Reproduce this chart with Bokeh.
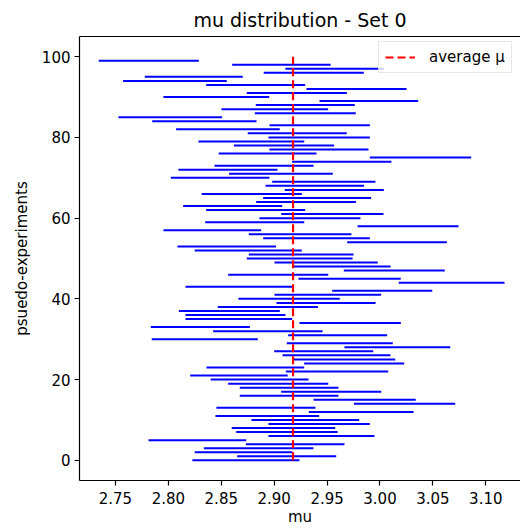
import numpy as np
from bokeh.plotting import figure
from bokeh.models import (ColumnDataSource, Range1d, FixedTicker, LinearAxis,
                          PrintfTickFormatter)
from bokeh.embed import file_html
from bokeh.resources import INLINE

# Fitted mu and its uncertainty for each pseudo-experiment (index = experiment number)
mu = [
    2.8733, 2.9118, 2.8711, 2.8853, 2.9198, 2.8274, 2.9447, 2.9120, 2.9088, 2.9425,
    2.9294, 2.8935, 2.9822, 2.8922, 3.0232, 2.9855, 2.9141, 2.9539, 2.9141, 2.9038,
    2.8862, 2.8667, 2.9594, 2.8822, 2.9756, 2.9660, 2.9589, 2.9468, 3.0164, 2.9620,
    2.8344, 2.9600, 2.8940, 2.8302, 2.9718, 2.8666, 2.8634, 2.8576, 2.8940, 2.9490,
    2.9141, 2.9507, 3.0021, 2.8669, 3.0677, 2.9713, 2.9038, 3.0135, 2.9638, 2.9491,
    2.9241, 2.9255, 2.8755, 2.8552, 3.0161, 2.9400, 2.9245, 2.8415, 3.0265, 2.8816,
    2.9338, 2.9550, 2.8825, 2.8608, 2.9301, 2.9406, 2.8788, 2.9568, 2.9384, 2.9469,
    2.8489, 2.9064, 2.8563, 2.8904, 2.9639, 3.0383, 2.8938, 2.9423, 2.9093, 2.8784,
    2.9425, 2.9218, 2.8563, 2.9430, 2.8340, 2.8018, 2.9294, 2.9006, 2.9294, 2.9895,
    2.8453, 2.9214, 2.9778, 2.8825, 2.8062, 2.8240, 2.9374, 2.9571, 2.9068, 2.7815,
]
sigma = [
    0.0506, 0.0468, 0.0462, 0.0518, 0.0466, 0.0462, 0.0501, 0.0479, 0.0489, 0.0479,
    0.0509, 0.0490, 0.0495, 0.0468, 0.0479, 0.0483, 0.0466, 0.0473, 0.0466, 0.0473,
    0.0462, 0.0461, 0.0484, 0.0462, 0.0473, 0.0484, 0.0510, 0.0468, 0.0500, 0.0501,
    0.0501, 0.0468, 0.0517, 0.0468, 0.0479, 0.0504, 0.0473, 0.0477, 0.0473, 0.0468,
    0.0479, 0.0504, 0.0473, 0.0507, 0.0500, 0.0483, 0.0473, 0.0477, 0.0462, 0.0488,
    0.0500, 0.0495, 0.0506, 0.0466, 0.0471, 0.0504, 0.0485, 0.0462, 0.0477, 0.0468,
    0.0477, 0.0483, 0.0468, 0.0468, 0.0471, 0.0510, 0.0473, 0.0468, 0.0466, 0.0488,
    0.0466, 0.0490, 0.0468, 0.0468, 0.0469, 0.0479, 0.0462, 0.0468, 0.0474, 0.0500,
    0.0479, 0.0468, 0.0490, 0.0474, 0.0493, 0.0490, 0.0477, 0.0504, 0.0468, 0.0466,
    0.0500, 0.0473, 0.0473, 0.0468, 0.0490, 0.0463, 0.0473, 0.0465, 0.0465, 0.0473,
]
x_ticks = [2.75, 2.80, 2.85, 2.90, 2.95, 3.00, 3.05, 3.10]
y_ticks = [0, 20, 40, 60, 80, 100]

FONT = "DejaVu Sans"

mu_arr = np.array(mu)
sig_arr = np.array(sigma)
n_exp = len(mu)
avg_mu = float(mu_arr.mean())

src = ColumnDataSource(dict(
    lo=mu_arr - sig_arr,
    hi=mu_arr + sig_arr,
    exp=np.arange(n_exp),
))

p = figure(
    width=520, height=528,
    output_backend="svg", toolbar_location=None,
    x_range=Range1d(2.716, 3.1328), y_range=Range1d(-5, 105),
    min_border_left=79, min_border_right=0,
    min_border_top=35, min_border_bottom=48,
    title="mu distribution - Set 0",
)
p.outline_line_color = None
p.xgrid.visible = False
p.ygrid.visible = False
p.background_fill_color = "white"
p.border_fill_color = "white"

p.title.text_font = FONT
p.title.text_font_size = "19px"
p.title.text_font_style = "normal"
p.title.text_color = "black"
p.title.align = "center"
p.title.standoff = 12

# interval of each pseudo-experiment
p.segment(x0="lo", y0="exp", x1="hi", y1="exp", source=src,
          line_color="#0000ff", line_width=2)

# average of the fitted values
p.segment(x0=[avg_mu], y0=[0], x1=[avg_mu], y1=[n_exp],
          line_color="#ff0000", line_width=2.2, line_dash="8 4",
          legend_label="average μ")

for ax in (p.xaxis[0], p.yaxis[0]):
    ax.axis_line_color = "black"
    ax.axis_line_width = 1.2
    ax.major_tick_line_color = "black"
    ax.major_tick_line_width = 1.2
    ax.major_tick_out = 5
    ax.major_tick_in = 0
    ax.minor_tick_line_color = None
    ax.major_label_text_font = FONT
    ax.major_label_text_font_size = "15px"
    ax.major_label_text_color = "black"
    ax.axis_label_text_font = FONT
    ax.axis_label_text_font_size = "15px"
    ax.axis_label_text_font_style = "normal"
    ax.axis_label_text_color = "black"

p.xaxis.ticker = FixedTicker(ticks=x_ticks)
p.xaxis.formatter = PrintfTickFormatter(format="%.2f")
p.xaxis.axis_label = "mu"
p.xaxis.major_label_standoff = 6
p.xaxis.axis_label_standoff = 1

p.yaxis.ticker = FixedTicker(ticks=y_ticks)
p.yaxis.axis_label = "psuedo-experiments"
p.yaxis.major_label_standoff = 4
p.yaxis.axis_label_standoff = 8

# top spine
top = LinearAxis(ticker=FixedTicker(ticks=[]), axis_line_color="black",
                 axis_line_width=1.2, major_tick_line_color=None,
                 minor_tick_line_color=None, major_label_text_font_size="0px")
p.add_layout(top, "above")

lg = p.legend[0]
lg.location = (299, 407)
lg.label_text_font = FONT
lg.label_text_font_size = "15px"
lg.label_text_color = "black"
lg.glyph_width = 30
lg.glyph_height = 18
lg.label_height = 18
lg.label_standoff = 14
lg.padding = 6
lg.margin = 0
lg.border_line_color = "#d0d0d0"
lg.border_line_width = 1
lg.background_fill_color = "white"
lg.background_fill_alpha = 0.8

open("out.html", "w").write(file_html(p, INLINE))
